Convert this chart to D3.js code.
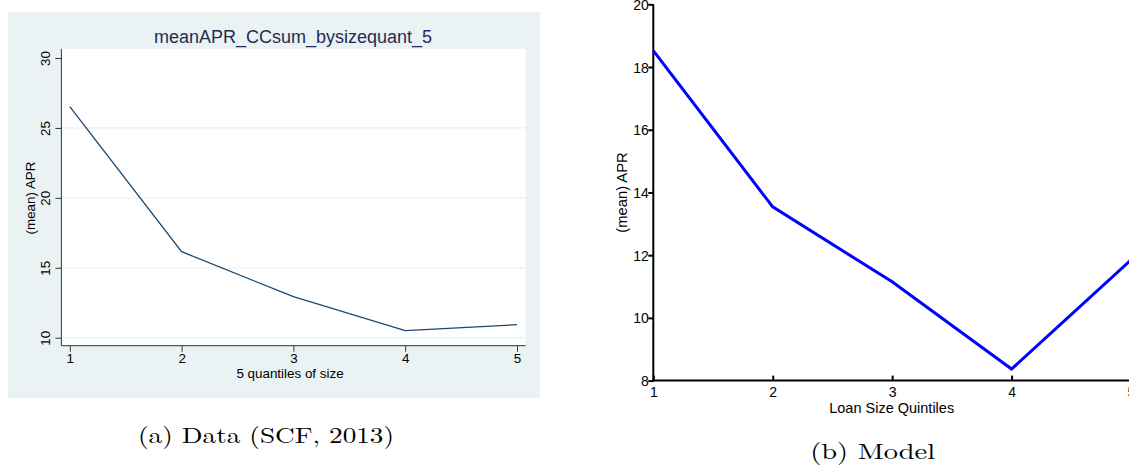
<!DOCTYPE html>
<html>
<head>
<meta charset="utf-8">
<script src="https://cdn.jsdelivr.net/npm/d3@7/dist/d3.min.js"></script>
<style>
  html, body { margin: 0; padding: 0; background: #fff; }
  svg { display: block; }
  text { font-family: "Liberation Sans", Arial, Helvetica, sans-serif; }
</style>
</head>
<body>
<svg id="fig" width="1129" height="465"></svg>
<script>
// Size quintiles on the horizontal axis of both panels
const quintiles = [1, 2, 3, 4, 5];
// Panel (a): mean APR by size quintile, survey data
const dataAPR = [26.52, 16.15, 12.93, 10.50, 10.93];
// Panel (b): mean APR by loan size quintile, model
const modelAPR = [18.52, 13.54, 11.15, 8.37, 11.85];
// Tick values
const dataYTicks = [10, 15, 20, 25, 30];
const dataGridTicks = [10, 15, 20, 25];
const modelYTicks = [8, 10, 12, 14, 16, 18, 20];

const svg = d3.select("#fig");

// ---------- Panel (a): Stata-style graph ----------
const A = { bgX: 8, bgY: 12, bgW: 532, bgH: 386,
            left: 61.4, right: 525.7, top: 49, bottom: 345.7 };

svg.append("rect")
  .attr("x", A.bgX).attr("y", A.bgY).attr("width", A.bgW).attr("height", A.bgH)
  .attr("fill", "#eaf2f3");
svg.append("rect")
  .attr("x", A.left).attr("y", A.top)
  .attr("width", A.right - A.left).attr("height", A.bottom - A.top)
  .attr("fill", "#ffffff");

const xA = d3.scaleLinear().domain([1, 5]).range([69.8, 517]);
const yA = d3.scaleLinear().domain([10, 30]).range([337.7, 58]);

// grid lines
svg.append("g").selectAll("line").data(dataGridTicks).join("line")
  .attr("x1", A.left + 0.5).attr("x2", A.right)
  .attr("y1", d => yA(d)).attr("y2", d => yA(d))
  .attr("stroke", "#eaf2f3").attr("stroke-width", 1.2);

// y axis
const gyA = svg.append("g").attr("transform", `translate(${A.left},0)`)
  .call(d3.axisLeft(yA).tickValues(dataYTicks).tickSize(6).tickSizeOuter(0).tickFormat(d3.format("d")));
gyA.select(".domain").attr("d", `M0,${A.top}V${A.bottom}`).attr("stroke", "#333").attr("stroke-width", 1);
gyA.selectAll(".tick line").attr("stroke", "#333").attr("stroke-width", 1);
gyA.selectAll(".tick text")
  .attr("x", null).attr("dy", null)
  .attr("transform", "translate(-11,0) rotate(-90)")
  .attr("text-anchor", "middle")
  .attr("font-size", 13.4).attr("fill", "#000");

// x axis
const gxA = svg.append("g").attr("transform", `translate(0,${A.bottom})`)
  .call(d3.axisBottom(xA).tickValues(quintiles).tickSize(6).tickSizeOuter(0).tickFormat(d3.format("d")));
gxA.select(".domain").attr("d", `M${A.left},0H${A.right}`).attr("stroke", "#333").attr("stroke-width", 1);
gxA.selectAll(".tick line").attr("stroke", "#333").attr("stroke-width", 1);
gxA.selectAll(".tick text").attr("y", 17.8).attr("dy", null)
  .attr("font-size", 13.4).attr("fill", "#000");

// series line
svg.append("path")
  .datum(quintiles.map((q, i) => [q, dataAPR[i]]))
  .attr("fill", "none").attr("stroke", "#1a476f").attr("stroke-width", 1.3)
  .attr("d", d3.line().x(d => xA(d[0])).y(d => yA(d[1])));

// titles
svg.append("text").attr("x", 293).attr("y", 42.5).attr("text-anchor", "middle")
  .attr("font-size", 18).attr("fill", "#1e2d53").text("meanAPR_CCsum_bysizequant_5");
svg.append("text").attr("x", 290).attr("y", 377.5).attr("text-anchor", "middle")
  .attr("font-size", 13.4).attr("fill", "#000").text("5 quantiles of size");
svg.append("text").attr("transform", "translate(34.5,198) rotate(-90)").attr("text-anchor", "middle")
  .attr("font-size", 13.4).attr("fill", "#000").text("(mean) APR");

// caption (a)
svg.append("text").attr("x", 266).attr("y", 443).attr("text-anchor", "middle")
  .style("font-family", "'Latin Modern Roman', 'CMU Serif', 'Liberation Serif', 'DejaVu Serif', serif")
  .attr("font-size", 22).attr("fill", "#000")
  .attr("textLength", 256).attr("lengthAdjust", "spacingAndGlyphs")
  .text("(a) Data (SCF, 2013)");

// ---------- Panel (b): MATLAB-style graph ----------
const B = { left: 653.3, bottom: 380.6 };
const xB = d3.scaleLinear().domain([1, 5]).range([653.3, 1131]);
const yB = d3.scaleLinear().domain([8, 20]).range([380.6, 4.3]);

const gyB = svg.append("g").attr("transform", `translate(${B.left},0)`)
  .call(d3.axisLeft(yB).tickValues(modelYTicks).tickSize(5).tickSizeOuter(0).tickPadding(0).tickFormat(d3.format("d")));
gyB.select(".domain").attr("d", `M0,${yB(20)}V${B.bottom + 1}`).attr("stroke", "#000").attr("stroke-width", 2);
gyB.selectAll(".tick line").attr("stroke", "#000").attr("stroke-width", 2);
gyB.selectAll(".tick text").attr("x", -4.5).attr("dy", "0.36em")
  .attr("font-size", 14).attr("fill", "#000");

const gxB = svg.append("g").attr("transform", `translate(0,${B.bottom})`)
  .call(d3.axisBottom(xB).tickValues(quintiles).tickSize(-5).tickSizeOuter(0).tickFormat(d3.format("d")));
gxB.select(".domain").attr("d", `M${B.left - 1},0H1140`).attr("stroke", "#000").attr("stroke-width", 2);
gxB.selectAll(".tick line").attr("stroke", "#000").attr("stroke-width", 2);
gxB.selectAll(".tick text").attr("y", 16.5).attr("dy", null)
  .attr("font-size", 14).attr("fill", "#000");

svg.append("path")
  .datum(quintiles.map((q, i) => [q, modelAPR[i]]))
  .attr("fill", "none").attr("stroke", "#0000ff").attr("stroke-width", 3)
  .attr("stroke-linejoin", "miter")
  .attr("d", d3.line().x(d => xB(d[0])).y(d => yB(d[1])));

svg.append("text").attr("x", 891.7).attr("y", 412.5).attr("text-anchor", "middle")
  .attr("font-size", 14.5).attr("fill", "#000").text("Loan Size Quintiles");
svg.append("text").attr("transform", "translate(626.5,192.5) rotate(-90)").attr("text-anchor", "middle")
  .attr("font-size", 14.8).attr("fill", "#000").text("(mean) APR");

// caption (b)
svg.append("text").attr("x", 872.7).attr("y", 459).attr("text-anchor", "middle")
  .style("font-family", "'Latin Modern Roman', 'CMU Serif', 'Liberation Serif', 'DejaVu Serif', serif")
  .attr("font-size", 22).attr("fill", "#000")
  .attr("textLength", 125).attr("lengthAdjust", "spacingAndGlyphs")
  .text("(b) Model");
</script>
</body>
</html>
